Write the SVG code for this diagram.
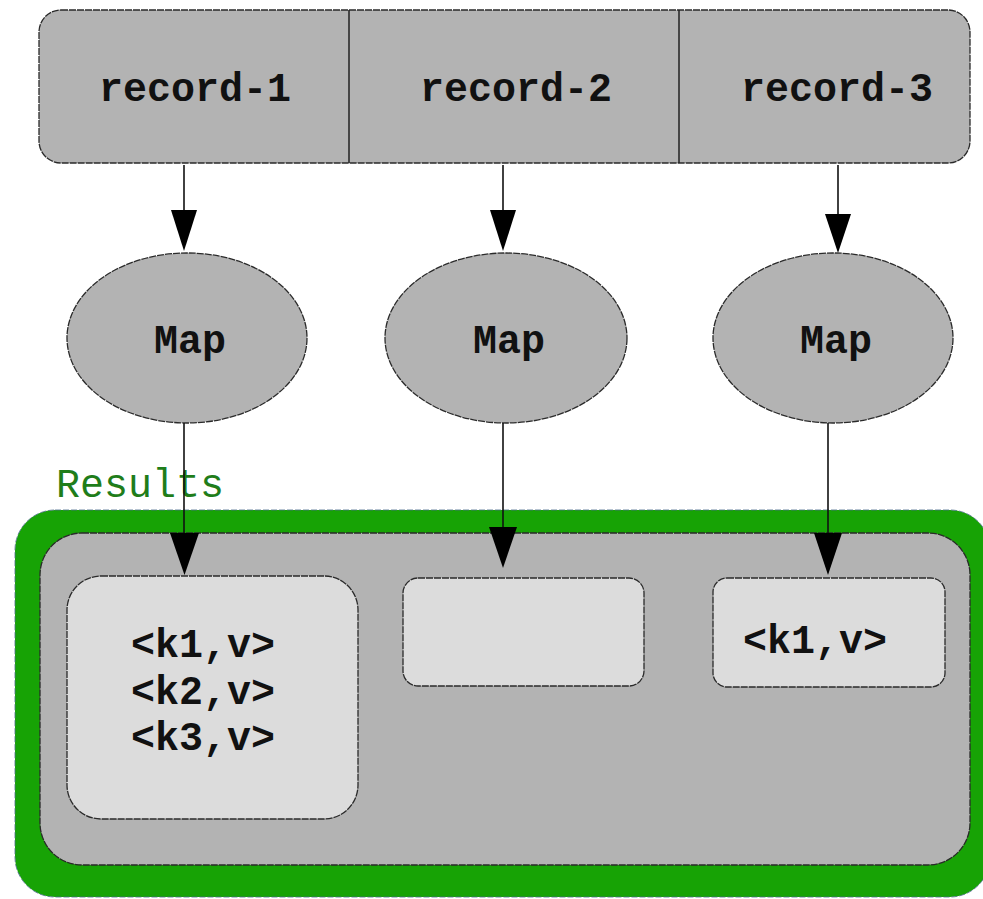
<svg xmlns="http://www.w3.org/2000/svg" width="983" height="899" viewBox="0 0 983 899">
<style>
.lbl{font-family:"Liberation Mono","Courier New",monospace;font-weight:bold;font-size:40px;fill:#111;text-anchor:middle}
.res{font-family:"Liberation Mono","Courier New",monospace;font-size:40px;fill:#1f7d1a}
.shape{fill:#b3b3b3;stroke:#2a2a2a;stroke-width:1.3;stroke-dasharray:7 1}
.box{fill:#dcdcdc;stroke:#2a2a2a;stroke-width:1.3;stroke-dasharray:7 1}
.div{stroke:#222;stroke-width:1.5}
.edge{stroke:#111;stroke-width:1.6;fill:none}
.head{fill:#000}
</style>
<rect width="983" height="899" fill="#fff"/>
<g id="records">
  <rect class="shape" x="39" y="10" width="931" height="153" rx="22"/>
  <line class="div" x1="349" y1="10" x2="349" y2="163"/>
  <line class="div" x1="679" y1="10" x2="679" y2="163"/>
</g>
<g id="record-1"><text class="lbl" x="195" y="101">record-1</text></g>
<g id="record-2"><text class="lbl" x="516" y="101">record-2</text></g>
<g id="record-3"><text class="lbl" x="837" y="101">record-3</text></g>
<g id="map-1"><ellipse class="shape" cx="187" cy="338" rx="120" ry="85"/><text class="lbl" x="190" y="353">Map</text></g>
<g id="map-2"><ellipse class="shape" cx="506" cy="338" rx="121" ry="85"/><text class="lbl" x="509" y="353">Map</text></g>
<g id="map-3"><ellipse class="shape" cx="833" cy="338" rx="120" ry="85"/><text class="lbl" x="836" y="353">Map</text></g>
<g id="results">
  <text class="res" x="56" y="497">Results</text>
  <rect x="15" y="510" width="975" height="387" rx="40" fill="#17a305" stroke="#4a6a8a" stroke-width="0.8" stroke-dasharray="6 2"/>
  <rect class="shape" x="40" y="533" width="930" height="332" rx="42"/>
</g>
<g id="result-1">
  <rect class="box" x="67" y="576" width="291" height="243" rx="34"/>
  <text class="lbl" x="203" y="657">&lt;k1,v&gt;</text>
  <text class="lbl" x="203" y="704">&lt;k2,v&gt;</text>
  <text class="lbl" x="203" y="750">&lt;k3,v&gt;</text>
</g>
<g id="result-2"><rect class="box" x="403" y="578" width="241" height="108" rx="15"/></g>
<g id="result-3">
  <rect class="box" x="713" y="578" width="232" height="109" rx="14"/>
  <text class="lbl" x="815" y="653">&lt;k1,v&gt;</text>
</g>
<g id="connectors">
  <line class="edge" x1="184" y1="165" x2="184" y2="212"/>
  <polygon class="head" points="171,210 197,210 184,251"/>
  <line class="edge" x1="503" y1="165" x2="503" y2="212"/>
  <polygon class="head" points="490,210 516,210 503,251"/>
  <line class="edge" x1="838" y1="165" x2="838" y2="216"/>
  <polygon class="head" points="825,214 851,214 838,253"/>
  <line class="edge" x1="184" y1="423" x2="184" y2="535"/>
  <polygon class="head" points="170,533 199,533 184.5,575"/>
  <line class="edge" x1="503" y1="423" x2="503" y2="529"/>
  <polygon class="head" points="489,527 517,527 503,568"/>
  <line class="edge" x1="828" y1="423" x2="828" y2="535"/>
  <polygon class="head" points="814,533 842,533 828,575"/>
</g>
</svg>
